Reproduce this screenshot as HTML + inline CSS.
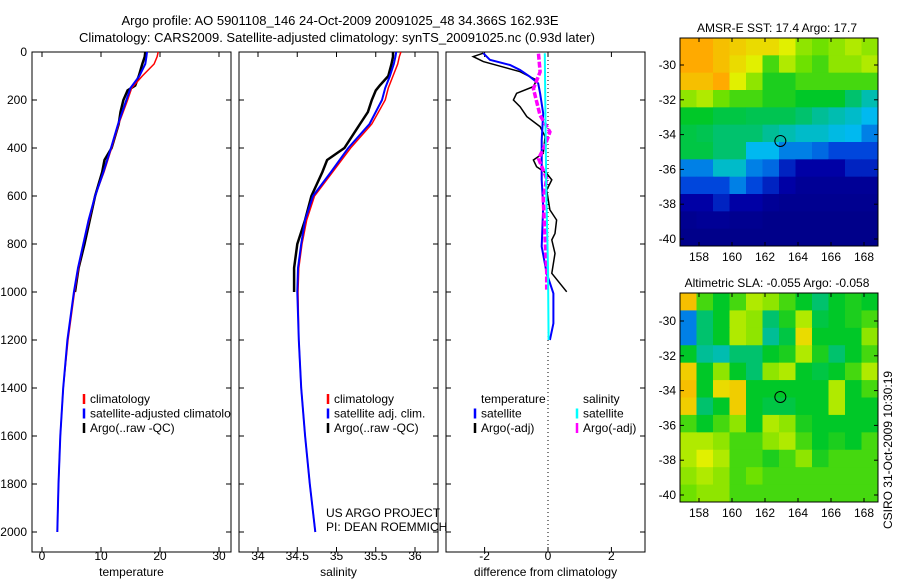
<!DOCTYPE html>
<html><head><meta charset="utf-8"><style>
body{margin:0;background:#fff;}
svg{display:block;font-family:"Liberation Sans",sans-serif;}
</style></head><body>
<svg id="c" width="900" height="580" xmlns="http://www.w3.org/2000/svg">
<text x="340" y="25" text-anchor="middle" font-size="13">Argo profile: AO 5901108_146 24-Oct-2009 20091025_48 34.366S 162.93E</text>
<text x="337" y="42" text-anchor="middle" font-size="13">Climatology: CARS2009. Satellite-adjusted climatology: synTS_20091025.nc (0.93d later)</text>
<text x="777" y="32" text-anchor="middle" font-size="12">AMSR-E SST: 17.4  Argo: 17.7</text>
<text x="777" y="287" text-anchor="middle" font-size="12">Altimetric SLA: -0.055  Argo: -0.058</text>
<text x="0" y="0" transform="translate(892,450) rotate(-90)" text-anchor="middle" font-size="12">CSIRO 31-Oct-2009 10:30:19</text>
<text x="326" y="517" font-size="12">US ARGO PROJECT</text>
<text x="326" y="531" font-size="12">PI: DEAN ROEMMICH</text>
</svg>
<script>
const depthsClim=[0,20,50,100,150,200,300,400,500,600,700,800,900,1000,1200,1400,1600,1800,2000];
const tempClim=[19.7,19.5,19,17,15.2,14.5,13,11.8,10.5,9,8,7,6.2,5.5,4.4,3.6,3.1,2.8,2.6];
const tempSat=[17.8,17.7,17.5,16.5,15,14.3,12.9,11.7,10.4,9,7.9,7,6.1,5.4,4.3,3.6,3.1,2.8,2.6];
const salClim=[35.82,35.8,35.78,35.72,35.66,35.62,35.45,35.18,34.95,34.72,34.62,34.56,34.52,34.51,34.52,34.55,34.6,34.66,34.73];
const salSat=[35.76,35.75,35.73,35.68,35.62,35.58,35.42,35.15,34.93,34.7,34.6,34.55,34.51,34.5,34.52,34.55,34.6,34.66,34.73];
const depthsArgo=[0,20,50,100,140,160,200,250,300,400,450,500,600,700,800,900,1000];
const tempArgo=[17.5,17.4,17,16.4,15.8,14.5,13.8,13.3,13,11.8,10.6,10.2,9,8.1,7.2,6.2,5.6];
const salArgo=[35.72,35.72,35.7,35.66,35.55,35.5,35.45,35.4,35.3,35.1,34.88,34.82,34.68,34.6,34.5,34.46,34.46];
const dTArgoP=[5,19,40,82,117,144,172,200,228,269,311,353,422,450,478,506,533,575,658,700,756,783,839,922,999];
const dTArgo=[-2.04,-2.36,-2.04,-0.88,-0.36,-0.46,-0.99,-1.09,-0.88,-0.67,-0.25,-0.09,-0.15,-0.46,-0.36,-0.04,0.12,-0.04,0.06,0.27,0.22,0.12,0.22,0.12,0.59];
const dTSatP=[5,33,54,75,103,131,172,256,367,533,644,811,922,1006,1131,1200];
const dTSat=[-2.04,-1.83,-1.2,-0.88,-0.57,-0.31,-0.25,-0.15,-0.2,-0.2,-0.15,-0.2,-0.04,0.17,0.17,0.06];
const dSSatP=[5,300,600,900,1200];
const dSSat=[-0.1,-0.08,-0.05,0,0.02];
const dSArgoP=[7,83,153,264,333,389,444,528,611,778,917,990];
const dSArgo=[-0.3,-0.25,-0.46,-0.25,0.06,-0.09,-0.3,-0.04,-0.15,-0.09,-0.04,-0.04];
const yTicks=[0,200,400,600,800,1000,1200,1400,1600,1800,2000];
const tTicks=[0,10,20,30], sTicks=[34,34.5,35,35.5,36], dTicks=[-2,0,2];
const sstGrid=[
[0.75,0.75,0.72,0.7,0.68,0.68,0.65,0.6,0.58,0.6,0.62,0.6],
[0.75,0.75,0.72,0.68,0.65,0.55,0.62,0.58,0.55,0.6,0.6,0.62],
[0.72,0.72,0.75,0.65,0.6,0.52,0.52,0.55,0.55,0.55,0.55,0.55],
[0.6,0.62,0.58,0.55,0.55,0.52,0.52,0.5,0.5,0.5,0.45,0.4],
[0.5,0.5,0.48,0.48,0.47,0.47,0.47,0.45,0.42,0.4,0.38,0.35],
[0.48,0.47,0.45,0.45,0.45,0.42,0.4,0.38,0.38,0.36,0.35,0.3],
[0.48,0.48,0.45,0.45,0.35,0.35,0.3,0.3,0.28,0.25,0.25,0.25],
[0.3,0.3,0.38,0.38,0.3,0.28,0.2,0.15,0.15,0.15,0.2,0.2],
[0.25,0.25,0.25,0.3,0.25,0.2,0.15,0.1,0.1,0.1,0.1,0.1],
[0.15,0.15,0.2,0.15,0.15,0.1,0.08,0.08,0.08,0.08,0.08,0.08],
[0.08,0.1,0.1,0.08,0.08,0.06,0.06,0.06,0.06,0.06,0.06,0.06],
[0.06,0.06,0.06,0.06,0.06,0.06,0.06,0.06,0.06,0.06,0.06,0.06]];
const slaGrid=[
[0.72,0.55,0.5,0.55,0.62,0.6,0.55,0.5,0.45,0.5,0.52,0.5],
[0.3,0.45,0.5,0.62,0.6,0.45,0.52,0.62,0.48,0.5,0.52,0.55],
[0.3,0.45,0.5,0.62,0.6,0.42,0.48,0.68,0.5,0.5,0.5,0.6],
[0.5,0.42,0.4,0.45,0.45,0.5,0.52,0.62,0.52,0.45,0.5,0.55],
[0.7,0.5,0.6,0.5,0.45,0.6,0.62,0.5,0.48,0.5,0.55,0.62],
[0.72,0.5,0.68,0.7,0.5,0.5,0.5,0.5,0.5,0.62,0.5,0.55],
[0.7,0.45,0.5,0.7,0.5,0.48,0.48,0.5,0.5,0.62,0.5,0.5],
[0.55,0.5,0.55,0.6,0.5,0.62,0.6,0.52,0.5,0.5,0.5,0.5],
[0.62,0.62,0.6,0.55,0.55,0.6,0.62,0.55,0.5,0.52,0.5,0.55],
[0.62,0.65,0.62,0.55,0.55,0.52,0.55,0.6,0.52,0.55,0.55,0.55],
[0.6,0.62,0.6,0.55,0.58,0.55,0.55,0.55,0.55,0.55,0.55,0.55],
[0.58,0.6,0.6,0.55,0.55,0.55,0.55,0.55,0.55,0.55,0.55,0.55]];
const lonTicks=[158,160,162,164,166,168], latTicks=[-30,-32,-34,-36,-38,-40];

const NS="http://www.w3.org/2000/svg", svg=document.getElementById('c');
function mk(t,a,p){const e=document.createElementNS(NS,t);for(const k in a)e.setAttribute(k,a[k]);(p||svg).appendChild(e);return e;}
const Y=p=>52+0.24*p;
const P1={x0:32,x1:231,sx:v=>42+5.9*v}, P2={x0:239,x1:438,sx:v=>258+(v-34)*78.5}, P3={x0:446,x1:645,sx:v=>548+v*31.7};
function line(P,xs,ps,col,w,name,dash){
  const d=xs.map((v,i)=>(i?'L':'M')+P.sx(v).toFixed(1)+','+Y(ps[i]).toFixed(1)).join('');
  const e=mk('path',{d:d,fill:'none',stroke:col,'stroke-width':w});
  if(dash)e.setAttribute('stroke-dasharray',dash);
  
  
}
function frame(P,ticks,lbl,title,name){
  const r=mk('rect',{x:P.x0,y:52,width:P.x1-P.x0,height:500,fill:'none',stroke:'#000','stroke-width':1});
  
  
  ticks.forEach(t=>{const x=P.sx(t);
    mk('line',{x1:x,y1:552,x2:x,y2:547,stroke:'#000'});mk('line',{x1:x,y1:52,x2:x,y2:57,stroke:'#000'});
    const tx=mk('text',{x:x,y:560,'text-anchor':'middle','font-size':12});tx.textContent=String(t);
    
    });
  yTicks.forEach(p=>{mk('line',{x1:P.x0,y1:Y(p),x2:P.x0+5,y2:Y(p),stroke:'#000'});mk('line',{x1:P.x1,y1:Y(p),x2:P.x1-5,y2:Y(p),stroke:'#000'});});
  const t=mk('text',{x:(P.x0+P.x1)/2,y:576,'text-anchor':'middle','font-size':12});t.textContent=title;
  
  
}
yTicks.forEach(p=>{const t=mk('text',{x:27,y:Y(p)+4,'text-anchor':'end','font-size':12});t.textContent=String(p);
  
  });
frame(P1,tTicks,'','temperature','temperature-panel');
frame(P2,sTicks,'','salinity','salinity-panel');
frame(P3,dTicks,'','difference from climatology','difference-panel');
mk('line',{x1:548,y1:52,x2:548,y2:552,stroke:'#000','stroke-dasharray':'1,3'});
line(P1,tempArgo,depthsArgo,'#000',2.5,'temp-argo-line');
line(P1,tempClim,depthsClim,'#f00',1.5,'temp-climatology-line');
line(P1,tempSat,depthsClim,'#00f',2,'temp-satellite-line');
line(P2,salArgo,depthsArgo,'#000',2.5,'sal-argo-line');
line(P2,salClim,depthsClim,'#f00',1.5,'sal-climatology-line');
line(P2,salSat,depthsClim,'#00f',2,'sal-satellite-line');
line(P3,dTArgo,dTArgoP,'#000',1.5,'diff-temp-argo-line');
line(P3,dTSat,dTSatP,'#00f',2,'diff-temp-satellite-line');
line(P3,dSArgo,dSArgoP,'#f0f',3.5,'diff-sal-argo-line','6,2');
line(P3,dSSat,dSSatP,'#0ff',2,'diff-sal-satellite-line');
function legend(x,y,items,name){items.forEach((it,i)=>{const yy=y+i*14.5;
  if(it[1]){mk('line',{x1:x,y1:yy-9,x2:x,y2:yy+1,stroke:it[1],'stroke-width':2.5});}
  const t=mk('text',{x:x+6,y:yy,'font-size':12});t.textContent=it[0];
  
  });}
mk('clipPath',{id:'cp1'});mk('rect',{x:32,y:52,width:199,height:500},svg.lastChild);
const g1=mk('g',{'clip-path':'url(#cp1)'});
[['climatology','#f00'],['satellite-adjusted climatology','#00f'],['Argo(..raw -QC)','#000']].forEach((it,i)=>{const yy=403+i*14.5;
  mk('line',{x1:84,y1:yy-9,x2:84,y2:yy+1,stroke:it[1],'stroke-width':2.5},g1);
  const t=mk('text',{x:90,y:yy,'font-size':12},g1);t.textContent=it[0];
  
  });
legend(328,403,[['climatology','#f00'],['satellite adj. clim.','#00f'],['Argo(..raw -QC)','#000']],'salinity-legend');
legend(475,403,[['temperature',null],['satellite','#00f'],['Argo(-adj)','#000']],'diff-temp-legend');
legend(577,403,[['salinity',null],['satellite','#0ff'],['Argo(-adj)','#f0f']],'diff-sal-legend');
const cmStops=[[0,[0,0,120]],[0.15,[0,0,165]],[0.25,[0,70,220]],[0.35,[0,185,240]],[0.42,[0,190,150]],[0.5,[0,200,40]],[0.58,[110,225,0]],[0.65,[225,240,0]],[0.75,[255,170,0]],[0.85,[255,80,0]],[1,[200,0,0]]];
function jet(v){for(let i=1;i<cmStops.length;i++){if(v<=cmStops[i][0]){const a=cmStops[i-1],b=cmStops[i],f=(v-a[0])/(b[0]-a[0]);
  return 'rgb('+a[1].map((c,k)=>Math.round(c+(b[1][k]-c)*f)).join(',')+')';}}return 'rgb(200,0,0)';}
function map(grid,top,bottom,lat30,lat40,name){
  const x0=680,x1=878,cw=(x1-x0)/12,ch=(bottom-top)/12;
  grid.forEach((row,i)=>row.forEach((v,j)=>{const r=mk('rect',{x:x0+j*cw,y:top+i*ch,width:cw+0.5,height:ch+0.5,fill:jet(v)});
    
    }));
  const f=mk('rect',{x:x0,y:top,width:x1-x0,height:bottom-top,fill:'none',stroke:'#000'});
  
  
  const lx=l=>699+(l-158)*16.5, ly=l=>lat30+(l+30)/(-10)*(lat40-lat30);
  lonTicks.forEach(l=>{mk('line',{x1:lx(l),y1:bottom,x2:lx(l),y2:bottom-4,stroke:'#000'});mk('line',{x1:lx(l),y1:top,x2:lx(l),y2:top+4,stroke:'#000'});
    const t=mk('text',{x:lx(l),y:bottom+15,'text-anchor':'middle','font-size':12});t.textContent=l;
    
    });
  latTicks.forEach(l=>{mk('line',{x1:x0,y1:ly(l),x2:x0+4,y2:ly(l),stroke:'#000'});mk('line',{x1:x1,y1:ly(l),x2:x1-4,y2:ly(l),stroke:'#000'});
    const t=mk('text',{x:676,y:ly(l)+4,'text-anchor':'end','font-size':12});t.textContent=l;
    
    });
  const c=mk('circle',{cx:lx(162.93),cy:ly(-34.366),r:5.5,fill:'none',stroke:'#000'});
  
  
}
map(sstGrid,38,246,65,239,'sst-map');
map(slaGrid,293,502,321,495,'sla-map');
</script>
</body></html>
